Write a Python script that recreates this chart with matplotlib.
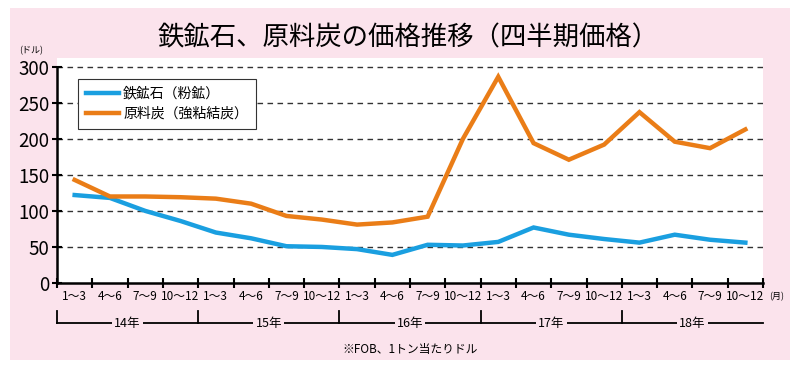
import matplotlib
matplotlib.use("Agg")
import matplotlib.pyplot as plt
from matplotlib.patches import Rectangle
import numpy as np

plt.rcParams['font.family'] = ['Noto Sans CJK JP', 'DejaVu Sans']

# ---- data ----
quarters = ['1～3', '4～6', '7～9', '10～12']
years = ['14年', '15年', '16年', '17年', '18年']
x_labels = quarters * len(years)
iron_ore = [122, 118, 100, 86, 70, 62, 51, 50, 47, 39,
            53, 52, 57, 77, 67, 61, 56, 67, 60, 56]
coking_coal = [143, 120, 120, 119, 117, 110, 93, 88, 81, 84,
               92, 200, 286, 194, 171, 192, 237, 196, 187, 213]
y_ticks = [0, 50, 100, 150, 200, 250, 300]
series_names = ['鉄鉱石（粉鉱）', '原料炭（強粘結炭）']
title = '鉄鉱石、原料炭の価格推移（四半期価格）'
note = '※FOB、1トン当たりドル'

PINK = '#fbe3ec'
BLUE = '#1a9fe0'
ORANGE = '#ea7d17'

W, H = 800, 371
fig = plt.figure(figsize=(W / 100, H / 100), dpi=100, facecolor='white')
fig.patches.append(Rectangle((10 / W, 11 / H), 780 / W, 352 / H,
                             transform=fig.transFigure, facecolor=PINK,
                             edgecolor='none', zorder=-10))

left, right, top, bottom = 57, 763, 58, 283
ax = fig.add_axes([left / W, (H - bottom) / H, (right - left) / W, (bottom - top) / H])
ax.set_facecolor('white')

n = len(x_labels)
xc = np.arange(n) + 0.5
ax.plot(xc, iron_ore, color=BLUE, lw=3.2, solid_joinstyle='miter', label=series_names[0], zorder=3)
ax.plot(xc, coking_coal, color=ORANGE, lw=3.2, solid_joinstyle='miter', label=series_names[1], zorder=3)

ax.set_xlim(0, n)
ax.set_ylim(0, 300 + (66.7 - top) / 0.72)

for s in ['top', 'right']:
    ax.spines[s].set_visible(False)
ax.spines['left'].set_bounds(0, 300)
ax.spines['left'].set_linewidth(1.8)
ax.spines['bottom'].set_linewidth(1.8)

for v in y_ticks[1:]:
    ax.axhline(v, color='#333333', lw=1.0, ls=(0, (4, 3.2)), zorder=1)

ax.set_yticks(y_ticks)
ax.set_yticklabels([str(v) for v in y_ticks], fontsize=13.5)
ax.tick_params(axis='y', direction='inout', length=7, width=1.5, pad=2)

ax.set_xticks(np.arange(n + 1))
ax.set_xticklabels([''] * (n + 1))
ax.tick_params(axis='x', which='major', direction='inout', length=7, width=1.5)
ax.set_xticks(xc, minor=True)
ax.set_xticklabels(x_labels, minor=True, fontsize=8.5)
ax.tick_params(axis='x', which='minor', length=0, pad=5)

# year brackets
tr = ax.get_xaxis_transform()
ybr = (bottom - 323) / (bottom - top)
ytk = (bottom - 311) / (bottom - top)
ax.plot([0, n], [ybr, ybr], transform=tr, color='black', lw=1.3, clip_on=False)
for i in range(len(years)):
    ax.plot([i * 4, i * 4], [ybr, ytk], transform=tr, color='black', lw=1.3, clip_on=False)
    ax.text(i * 4 + 2, ybr, years[i], transform=tr, ha='center', va='center', fontsize=9,
            bbox=dict(facecolor=PINK, edgecolor='none', pad=1.5), clip_on=False)

fig.text(777 / W, 1 - 297 / H, '(月)', ha='center', va='center', fontsize=6.5)
fig.text(31 / W, 1 - 51 / H, '(ドル)', ha='center', va='center', fontsize=6.5)
fig.text(408 / W, 1 - 38 / H, title, ha='center', va='center', fontsize=19)
fig.text(410 / W, 1 - 349 / H, note, ha='center', va='center', fontsize=8.5)

leg = ax.legend(loc='upper left', bbox_to_anchor=((78 - left) / (right - left), (bottom - 79) / (bottom - top)),
                fontsize=10, frameon=True, fancybox=False, framealpha=1, edgecolor='#333333',
                handlelength=2.4, handletextpad=0.3, borderaxespad=0, labelspacing=0.45,
                borderpad=0.55)
leg.get_frame().set_linewidth(0.8)

fig.savefig('out.png', dpi=100, facecolor='white')
